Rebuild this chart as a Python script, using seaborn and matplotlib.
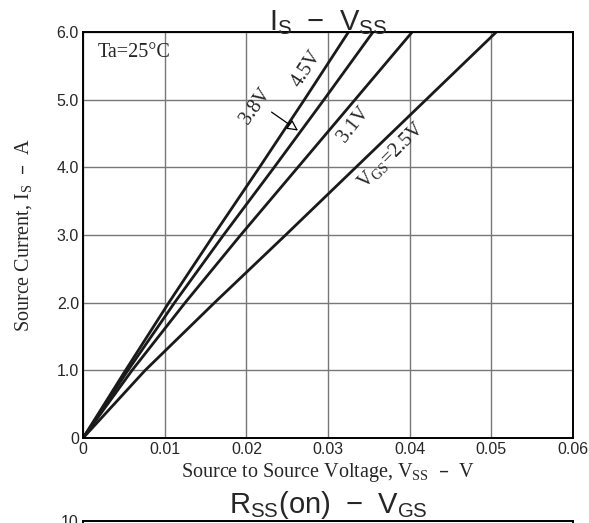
import numpy as np
import pandas as pd
import matplotlib
matplotlib.use("Agg")
import matplotlib.pyplot as plt
import seaborn as sns

# Kurvedata lest av bildet (Is i A, Vss i V)
source_current = [0, 1, 2, 3, 4, 5, 6]
vss_45 = [0, 0.0052, 0.0105, 0.0160, 0.0216, 0.0271, 0.0325]
vss_38 = [0, 0.0055, 0.0112, 0.0172, 0.0234, 0.0295, 0.0355]
vss_31 = [0, 0.0060, 0.0125, 0.0193, 0.0263, 0.0333, 0.0403]
vss_25 = [0, 0.0076, 0.0161, 0.0248, 0.0334, 0.0420, 0.0506]

x_ticks = [0, 0.01, 0.02, 0.03, 0.04, 0.05, 0.06]
x_tick_labels = ["0", "0.01", "0.02", "0.03", "0.04", "0.05", "0.06"]
y_ticks = [0, 1, 2, 3, 4, 5, 6]
y_tick_labels = ["0", "1.0", "2.0", "3.0", "4.0", "5.0", "6.0"]

sns.set_style("white")
plt.rcParams["font.family"] = ["Liberation Sans", "DejaVu Sans"]

SERIF = ["Liberation Serif", "DejaVu Serif"]
SANS = ["Liberation Sans", "DejaVu Sans"]

fig = plt.figure(figsize=(5.89, 5.23), dpi=100)
ax = fig.add_axes([0.141, 0.1625, 0.832, 0.7763])

for vss in [vss_45, vss_38, vss_31, vss_25]:
    sns.lineplot(x=vss, y=source_current, color="#1a1a1a", linewidth=2.0, ax=ax)

ax.set_xlim(0, 0.06)
ax.set_ylim(0, 6)
ax.set_xticks(x_ticks)
ax.set_xticklabels(x_tick_labels, family=SANS, fontsize=11.5)
ax.set_yticks(y_ticks)
ax.set_yticklabels(y_tick_labels, family=SANS, fontsize=11.5)
ax.tick_params(length=0, pad=3)
ax.grid(True, color="#777777", linewidth=1.0)
for s in ax.spines.values():
    s.set_color("black")
    s.set_linewidth(1.4)

ax.set_title(r"$\mathregular{I_S\ -\ V_{SS}}$", family=SANS, fontsize=21, pad=1)
ax.set_xlabel(r"Source to Source Voltage, V$\mathregular{_{SS}}$  –  V", family=SERIF, fontsize=14.5, labelpad=3)
ax.set_ylabel(r"Source Current, I$\mathregular{_S}$  –  A", family=SERIF, fontsize=14.5, labelpad=16)

ax.text(0.0018, 5.70, "Ta=25°C", family=SERIF, fontsize=14.5, va="center", ha="left")
ax.text(0.0274, 5.45, "4.5V", family=SERIF, fontsize=14.5, rotation=57, ha="center", va="center")
ax.text(0.0211, 4.91, "3.8V", family=SERIF, fontsize=14.5, rotation=55, ha="center", va="center")
ax.text(0.0331, 4.63, "3.1V", family=SERIF, fontsize=14.5, rotation=52, ha="center", va="center")
ax.text(0.0377, 4.18, r"V$\mathregular{_{GS}}$=2.5V", family=SERIF, fontsize=14.5, rotation=45, ha="center", va="center")
ax.annotate("", xy=(0.0266, 4.52), xytext=(0.0228, 4.84),
            arrowprops=dict(arrowstyle="-|>", color="black", lw=0.9, fc="white", mutation_scale=16))

# neste diagram, bare toppen synlig
ax2 = fig.add_axes([0.141, -0.5, 0.832, 0.5038])
ax2.set_xlim(0, 7)
ax2.set_ylim(0, 10)
ax2.set_yticks([10])
ax2.set_yticklabels(["10"], family=SANS, fontsize=11.5)
ax2.set_xticks([])
ax2.tick_params(length=0, pad=3)
for s in ax2.spines.values():
    s.set_color("black")
    s.set_linewidth(1.4)
ax2.set_title(r"$\mathregular{R_{SS}(on)\ -\ V_{GS}}$", family=SANS, fontsize=21, pad=1)

fig.savefig("out.png", dpi=100)
